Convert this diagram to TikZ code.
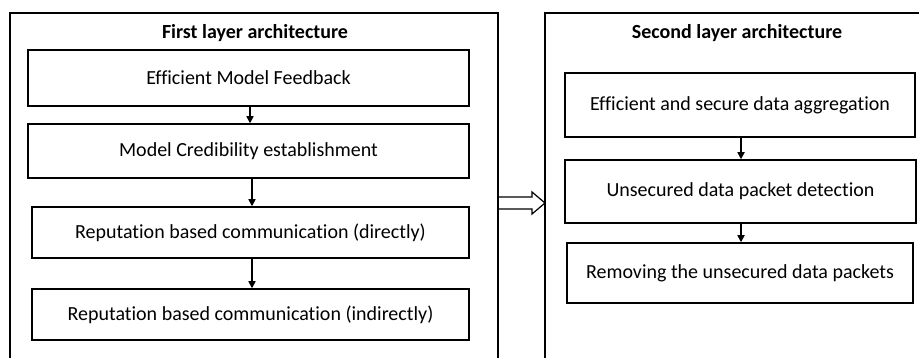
\documentclass[tikz,border=0pt]{standalone}
\usepackage{fontspec}
\setmainfont[Ligatures=NoCommon]{Carlito}
\usetikzlibrary{arrows.meta}
\begin{document}
\begin{tikzpicture}[x=1pt,y=-1pt,
  stepbox/.style={draw,line width=1.5pt,inner sep=0pt,font=\fontsize{20}{23}\selectfont},
  title/.style={font=\bfseries\fontsize{20}{23}\selectfont,inner sep=0pt},
  flow/.style={-{Triangle[length=7pt,width=7pt]},line width=1.6pt},
  outer/.style={line width=1.5pt}]
\useasboundingbox (0,0) rectangle (919,358);
% outer frames (cut off at picture edge)
\draw[outer] (10,358) -- (10,13) -- (498,13) -- (498,358);
\draw[outer] (545,358) -- (545,13) -- (919,13);
\node[title] (t1) at (255,33) {First layer architecture};
\node[title] (t2) at (737,33) {Second layer architecture};
% left boxes
\node[stepbox,minimum width=441pt,minimum height=56pt] (a1) at (248.5,78) {Efficient Model Feedback};
\node[stepbox,minimum width=441pt,minimum height=54pt] (a2) at (248.5,151) {Model Credibility establishment};
\node[stepbox,minimum width=437pt,minimum height=51pt] (a3) at (250.5,232.5) {Reputation based communication (directly)};
\node[stepbox,minimum width=437pt,minimum height=51pt] (a4) at (250.5,314.5) {Reputation based communication (indirectly)};
% right boxes
\node[stepbox,minimum width=350pt,minimum height=64pt] (b1) at (740,105) {Efficient and secure data aggregation};
\node[stepbox,minimum width=351pt,minimum height=63pt] (b2) at (740.5,191.5) {Unsecured data packet detection};
\node[stepbox,minimum width=346pt,minimum height=60pt] (b3) at (740,273) {Removing the unsecured data packets};
% flow arrows
\draw[flow] (a1.south -| 250,0) -- (a2.north -| 250,0);
\draw[flow] (a2.south -| 252,0) -- (a3.north -| 252,0);
\draw[flow] (a3.south -| 252,0) -- (a4.north -| 252,0);
\draw[flow] (b1.south -| 741,0) -- (b2.north -| 741,0);
\draw[flow] (b2.south -| 741,0) -- (b3.north -| 741,0);
% hollow block arrow between layers
\coordinate (h0) at (498,203);
\coordinate (h1) at (545,203);
\draw[line width=1.2pt,line join=miter] (h0) ++(0,-6) -- (532,197) -- (532,192) -- (h1) -- (532,214) -- (532,209) -- (498,209);
\end{tikzpicture}
\end{document}
